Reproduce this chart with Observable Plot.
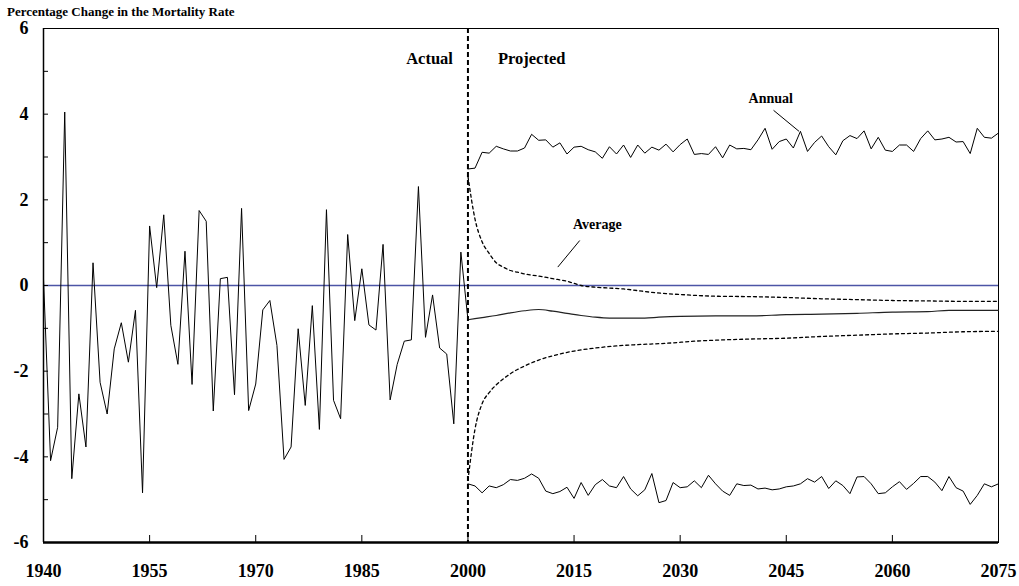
<!DOCTYPE html>
<html>
<head>
<meta charset="utf-8">
<script src="https://cdn.jsdelivr.net/npm/d3@7"></script>
<script src="https://cdn.jsdelivr.net/npm/@observablehq/plot@0.6"></script>
<style>
  body { margin: 0; background: #fff; }
  #wrap { position: relative; width: 1019px; height: 586px; }
  #title { position: absolute; left: 7px; top: 4px; font: bold 13px "Liberation Serif", serif; white-space: nowrap; }
  #chart { position: absolute; left: 0; top: 0; }
</style>
</head>
<body>
<div id="wrap">
  <div id="chart"></div>
  <div id="title">Percentage Change in the Mortality Rate</div>
</div>
<script>
// Historical annual percentage change, 1940–2000
const actualYears = d3.range(1940, 2001);
const actualValues = [
  0.15, -4.09, -3.31, 4.05, -4.51, -2.53, -3.77, 0.53, -2.26, -3.00,
  -1.48, -0.87, -1.79, -0.58, -4.84, 1.39, -0.05, 1.65, -0.93, -1.84,
  0.80, -2.31, 1.75, 1.50, -2.93, 0.16, 0.19, -2.55, 1.80, -2.92,
  -2.30, -0.57, -0.35, -1.40, -4.06, -3.77, -1.01, -2.80, -0.47, -3.36,
  1.77, -2.68, -3.11, 1.19, -0.82, 0.39, -0.92, -1.04, 0.96, -2.67,
  -1.84, -1.30, -1.27, 2.31, -1.21, -0.22, -1.46, -1.60, -3.23, 0.78,
  -0.80
];

// Projected annual bounds, 2000–2075
const projYears = d3.range(2000, 2076);
const annualHigh = [
  2.72, 2.74, 3.11, 3.09, 3.25, 3.19, 3.14, 3.14, 3.21, 3.53,
  3.39, 3.40, 3.23, 3.33, 3.07, 3.23, 3.25, 3.17, 3.12, 2.97,
  3.24, 3.07, 3.28, 2.99, 3.28, 3.09, 3.23, 3.16, 3.30, 3.12,
  3.29, 3.42, 3.06, 3.08, 3.06, 3.24, 2.98, 3.28, 3.19, 3.20,
  3.17, 3.40, 3.67, 3.18, 3.36, 3.42, 3.21, 3.60, 3.13, 3.34,
  3.49, 3.24, 3.05, 3.38, 3.50, 3.43, 3.61, 3.19, 3.46, 3.16,
  3.13, 3.28, 3.28, 3.13, 3.43, 3.61, 3.40, 3.42, 3.46, 3.35,
  3.36, 3.08, 3.67, 3.46, 3.44, 3.56
];
const annualLow = [
  -4.63, -4.68, -4.84, -4.68, -4.72, -4.65, -4.53, -4.55, -4.50, -4.40,
  -4.50, -4.80, -4.86, -4.81, -4.71, -4.97, -4.60, -4.90, -4.65, -4.53,
  -4.68, -4.72, -4.46, -4.75, -4.91, -4.77, -4.39, -5.07, -5.02, -4.60,
  -4.72, -4.70, -4.56, -4.72, -4.43, -4.63, -4.80, -4.90, -4.63, -4.67,
  -4.66, -4.75, -4.73, -4.77, -4.75, -4.70, -4.68, -4.63, -4.51, -4.59,
  -4.46, -4.74, -4.56, -4.67, -4.86, -4.47, -4.46, -4.63, -4.86, -4.84,
  -4.70, -4.58, -4.76, -4.62, -4.46, -4.46, -4.59, -4.79, -4.46, -4.72,
  -4.80, -5.11, -4.90, -4.63, -4.70, -4.63
];

// Projected central path
const centralYears = [2000, 2002, 2004, 2006, 2008, 2010, 2012, 2014, 2016, 2018, 2020, 2025, 2027, 2030, 2035, 2040, 2045, 2050, 2055, 2060, 2065, 2068, 2075];
const centralValues = [-0.80, -0.75, -0.70, -0.64, -0.59, -0.56, -0.60, -0.65, -0.70, -0.74, -0.76, -0.76, -0.74, -0.72, -0.71, -0.71, -0.68, -0.67, -0.65, -0.62, -0.61, -0.58, -0.58];

// Bounds of the average change since 2000
const avgHighYears = [2000, 2001, 2002, 2003, 2004, 2005, 2006, 2007, 2008, 2010, 2012, 2014, 2016, 2018, 2020, 2022, 2024, 2026, 2028, 2030, 2032, 2035, 2040, 2045, 2050, 2055, 2060, 2065, 2070, 2075];
const avgHighValues = [2.55, 1.55, 1.02, 0.75, 0.53, 0.43, 0.35, 0.31, 0.27, 0.22, 0.16, 0.10, 0.00, -0.04, -0.06, -0.08, -0.12, -0.16, -0.19, -0.21, -0.23, -0.25, -0.26, -0.28, -0.31, -0.33, -0.35, -0.36, -0.37, -0.37];
const avgLowYears = [2000, 2001, 2002, 2003, 2004, 2005, 2006, 2007, 2008, 2010, 2012, 2015, 2018, 2021, 2024, 2028, 2032, 2036, 2040, 2045, 2050, 2055, 2060, 2065, 2070, 2075];
const avgLowValues = [-4.55, -3.35, -2.76, -2.50, -2.32, -2.18, -2.06, -1.96, -1.88, -1.74, -1.64, -1.53, -1.46, -1.41, -1.38, -1.35, -1.30, -1.27, -1.25, -1.23, -1.19, -1.16, -1.13, -1.11, -1.08, -1.07];

const xTicks = d3.range(1940, 2076, 15);
const yTicks = d3.range(-6, 7, 1);
const yLabels = d3.range(-6, 7, 2);

const pairs = (xs, ys) => xs.map((x, i) => ({x, y: ys[i]}));
const actual = pairs(actualYears, actualValues);
const high = pairs(projYears, annualHigh);
const low = pairs(projYears, annualLow);
const central = pairs(centralYears, centralValues);
const avgHigh = pairs(avgHighYears, avgHighValues);
const avgLow = pairs(avgLowYears, avgLowValues);

const font = "Liberation Serif, Times New Roman, serif";

const chart = Plot.plot({
  width: 1019,
  height: 586,
  marginTop: 28,
  marginBottom: 44,
  marginLeft: 43,
  marginRight: 21,
  style: { fontFamily: font, fontWeight: "bold", background: "#fff", color: "#000" },
  x: { domain: [1940, 2075] },
  y: { domain: [-6, 6] },
  marks: [
    Plot.frame({ stroke: "#000", strokeWidth: 1 }),
    Plot.ruleY([0], { stroke: "#4c55a6", strokeWidth: 1.5 }),
    // inward tick marks
    Plot.axisY(yTicks, { tickSize: -5, tickFormat: () => "", stroke: "#000", label: null }),
    Plot.axisY(yLabels, { tickSize: 0, tickPadding: 15, fontSize: 18, tickFormat: d => String(d), label: null }),
    Plot.axisX(xTicks, { tickSize: -7, tickFormat: () => "", stroke: "#000", label: null }),
    Plot.axisX(xTicks, { tickSize: 0, tickPadding: 22, fontSize: 18, tickFormat: d => String(d), label: null }),
    // projected average bounds
    Plot.line(avgHigh, { x: "x", y: "y", stroke: "#000", strokeWidth: 1.3, strokeDasharray: "3,3", curve: "monotone-x" }),
    Plot.line(avgLow, { x: "x", y: "y", stroke: "#000", strokeWidth: 1.3, strokeDasharray: "3,3", curve: "monotone-x" }),
    // series
    Plot.line(actual, { x: "x", y: "y", stroke: "#000", strokeWidth: 1 }),
    Plot.line(high, { x: "x", y: "y", stroke: "#000", strokeWidth: 1 }),
    Plot.line(low, { x: "x", y: "y", stroke: "#000", strokeWidth: 1 }),
    Plot.line(central, { x: "x", y: "y", stroke: "#222", strokeWidth: 1.2, curve: "monotone-x" }),
    // divider between actual and projected
    Plot.ruleX([2000], { stroke: "#000", strokeWidth: 2, strokeDasharray: "5,3" }),
    Plot.ruleY([-6], { stroke: "#000", strokeWidth: 2.5 }),
    Plot.ruleX([1940], { stroke: "#000", strokeWidth: 1.5 }),
    // labels
    Plot.text(["Actual"], { x: 2000, y: 5.3, dx: -15, textAnchor: "end", fontSize: 16.5, fontWeight: "bold" }),
    Plot.text(["Projected"], { x: 2000, y: 5.3, dx: 30, textAnchor: "start", fontSize: 16.5, fontWeight: "bold" }),
    Plot.text(["Annual"], { x: 2042.8, y: 4.37, fontSize: 14, fontWeight: "bold" }),
    Plot.link([{}], { x1: 2043.2, y1: 4.09, x2: 2046.8, y2: 3.60, stroke: "#000", strokeWidth: 1 }),
    Plot.text(["Average"], { x: 2018.3, y: 1.42, fontSize: 14, fontWeight: "bold" }),
    Plot.link([{}], { x1: 2015.8, y1: 1.05, x2: 2012.7, y2: 0.43, stroke: "#000", strokeWidth: 1 })
  ]
});
document.getElementById("chart").appendChild(chart);
</script>
</body>
</html>
